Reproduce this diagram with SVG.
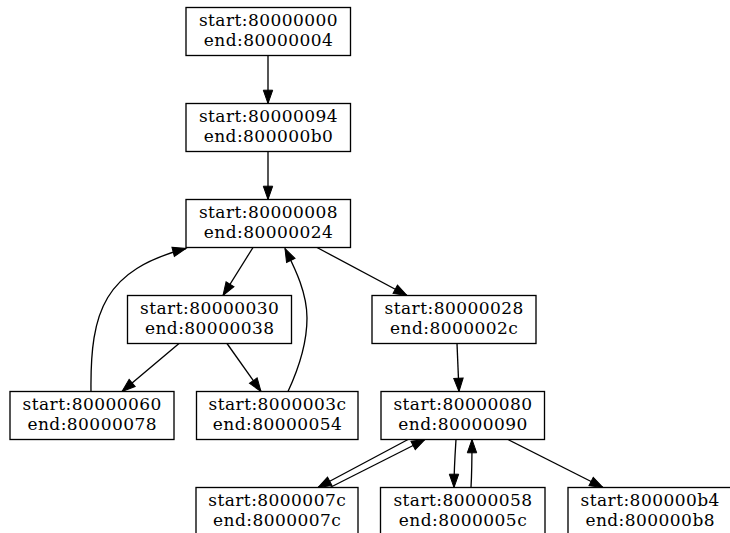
<svg xmlns="http://www.w3.org/2000/svg" width="730" height="533" viewBox="0 0 730 533">
<style>
.box{fill:#ffffff;stroke:#000000;stroke-width:1.33}
.lbl{font-family:"DejaVu Serif","Liberation Serif",serif;font-size:17px;letter-spacing:0.45px;fill:#000000;text-anchor:middle}
.edge{fill:none;stroke:#000000;stroke-width:1.33;marker-end:url(#arr)}
</style>
<defs>
<marker id="arr" markerUnits="userSpaceOnUse" markerWidth="16" markerHeight="12" viewBox="0 -6 14 12" refX="13.3" refY="0" orient="auto">
<path d="M0,-4.7 L13.3,0 L0,4.7 z" fill="#000000" stroke="#000000" stroke-width="1"/>
</marker>
</defs>
<rect width="730" height="533" fill="#ffffff"/>
<g id="edges">
<path class="edge" d="M268,55.5 L268,103.5"/>
<path class="edge" d="M268,151.5 L268,199.5"/>
<path class="edge" d="M253,247.5 L223,295.5"/>
<path class="edge" d="M317,247.5 L407,295.5"/>
<path class="edge" d="M179,343.5 L122,391.5"/>
<path class="edge" d="M227,343.5 L261,391.5"/>
<path class="edge" d="M91,391.5 C90,310 105,270 186,248.5"/>
<path class="edge" d="M288,391.5 C298,370 307,345 307,318 C307,290 292,263 285,248.5"/>
<path class="edge" d="M457,343.5 L459,391.5"/>
<path class="edge" d="M408,439.5 L318,487.5"/>
<path class="edge" d="M330,487.5 L425,439.5"/>
<path class="edge" d="M456,439.5 C455,455 454,470 454,487.5"/>
<path class="edge" d="M471,487.5 C472,470 472,455 472,439.5"/>
<path class="edge" d="M508,439.5 L603,487.5"/>
</g>
<g id="n80000000">
<rect class="box" x="186" y="7.5" width="164.5" height="48"/>
<text class="lbl" x="268.5" y="26.3">start:80000000</text>
<text class="lbl" x="268.5" y="46.1">end:80000004</text>
</g>
<g id="n80000094">
<rect class="box" x="186" y="103.5" width="164.5" height="48"/>
<text class="lbl" x="268.5" y="122.3">start:80000094</text>
<text class="lbl" x="268.5" y="142.1">end:800000b0</text>
</g>
<g id="n80000008">
<rect class="box" x="186" y="199.5" width="164.5" height="48"/>
<text class="lbl" x="268.5" y="218.3">start:80000008</text>
<text class="lbl" x="268.5" y="238.1">end:80000024</text>
</g>
<g id="n80000030">
<rect class="box" x="127.5" y="295.5" width="164" height="48"/>
<text class="lbl" x="209.7" y="314.3">start:80000030</text>
<text class="lbl" x="209.7" y="334.1">end:80000038</text>
</g>
<g id="n80000028">
<rect class="box" x="372" y="295.5" width="164" height="48"/>
<text class="lbl" x="454.2" y="314.3">start:80000028</text>
<text class="lbl" x="454.2" y="334.1">end:8000002c</text>
</g>
<g id="n80000060">
<rect class="box" x="10" y="391.5" width="164" height="48"/>
<text class="lbl" x="92.2" y="410.3">start:80000060</text>
<text class="lbl" x="92.2" y="430.1">end:80000078</text>
</g>
<g id="n8000003c">
<rect class="box" x="196.5" y="391.5" width="161.5" height="48"/>
<text class="lbl" x="277.5" y="410.3">start:8000003c</text>
<text class="lbl" x="277.5" y="430.1">end:80000054</text>
</g>
<g id="n80000080">
<rect class="box" x="381" y="391.5" width="163.5" height="48"/>
<text class="lbl" x="463" y="410.3">start:80000080</text>
<text class="lbl" x="463" y="430.1">end:80000090</text>
</g>
<g id="n8000007c">
<rect class="box" x="196" y="487.5" width="162" height="48"/>
<text class="lbl" x="277.2" y="506.3">start:8000007c</text>
<text class="lbl" x="277.2" y="526.1">end:8000007c</text>
</g>
<g id="n80000058">
<rect class="box" x="380.5" y="487.5" width="164.5" height="48"/>
<text class="lbl" x="463" y="506.3">start:80000058</text>
<text class="lbl" x="463" y="526.1">end:8000005c</text>
</g>
<g id="n800000b4">
<rect class="box" x="568" y="487.5" width="164" height="48"/>
<text class="lbl" x="650.2" y="506.3">start:800000b4</text>
<text class="lbl" x="650.2" y="526.1">end:800000b8</text>
</g>
</svg>
